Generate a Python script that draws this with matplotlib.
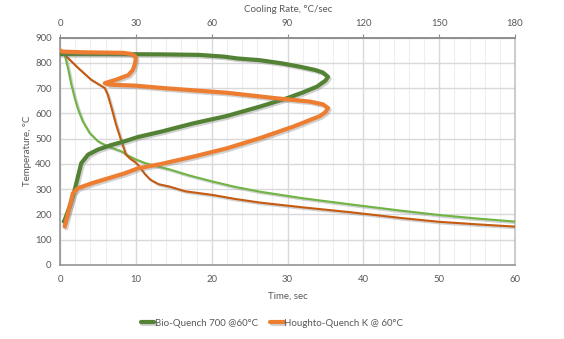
import matplotlib
matplotlib.use("Agg")
import matplotlib.pyplot as plt
import matplotlib.patheffects as pe
from matplotlib.ticker import MultipleLocator

# ---- data ----
# Temperature vs time (bottom axis)
bio_time = [0.4, 0.62, 1.05, 1.5, 1.94, 2.4, 3.0, 3.9, 5.0, 6.3, 8.1, 9.0, 10.0, 11.2, 12.5,
            14.5, 17, 20.2, 23, 26.4, 32.1, 38.3, 45, 50, 55, 60]
bio_temp = [838, 833, 780, 714, 661, 615, 569, 523, 490, 470, 450, 433, 418, 404, 393,
            378, 355, 330, 310, 290, 264, 240, 215, 198, 184, 172]

hq_time = [0.5, 0.83, 2.4, 4.1, 5.9, 6.3, 6.8, 7.4, 8.1, 8.7, 9.3, 9.9, 10.3, 11.2, 11.9,
           13.0, 14.5, 16.5, 20.2, 23, 26.4, 32.1, 38.3, 45, 50, 55, 60]
hq_temp = [835, 826, 780, 734, 701, 674, 622, 555, 490, 437, 420, 408, 396, 360, 338,
           320, 310, 292, 277, 262, 247, 228, 209, 186, 171, 161, 152]

# Cooling rate vs temperature (top axis)
bio_rate = [0, 20, 40, 55, 65, 70, 79, 88, 95, 101, 104, 106, 105, 101.6, 96, 89.7, 79, 66,
            52.8, 40, 30.9, 25.6, 20.3, 15, 11.1, 8.4, 7.1, 5.8, 3.8, 1.85, 1.5]
bio_rate_temp = [835, 835, 834, 832, 825, 818, 811, 798, 785, 772, 762, 745, 730, 706, 683,
                 660, 627, 590, 561, 528, 507, 490, 475, 457, 437, 403, 350, 297, 231, 178, 172]

hq_rate = [0, 1, 10, 25, 28, 29.6, 30, 29.6, 28.8, 27, 22, 17.7, 20, 30, 41.5, 66, 85.8, 98.9,
           104, 106, 105, 102.9, 92.3, 79, 66, 52.7, 40, 30.9, 25.6, 19, 12.4, 7.1, 5.1, 3.8,
           1.85]
hq_rate_temp = [850, 845, 842, 840, 836, 828, 815, 795, 772, 752, 733, 720, 714, 710, 700,
                682, 660, 647, 636, 622, 605, 590, 548, 502, 462, 429, 400, 383, 363, 343,
                323, 304, 284, 231, 152]

series_labels = ["Bio-Quench 700 @60°C", "Houghto-Quench K @ 60°C"]

# ---- style ----
plt.rcParams['font.family'] = ['Lato', 'DejaVu Sans']
txt = '#595959'
c_dkgreen = '#548235'
c_ltgreen = '#70B443'
c_orange = '#ED7D31'
c_brown = '#C55A11'

fig = plt.figure(figsize=(5.64, 3.39), dpi=100)
L, R = 60 / 564, 515 / 564
B, T = 1 - 265 / 339, 1 - 37.7 / 339
ax = fig.add_axes([L, B, R - L, T - B])

shadow = [pe.SimpleLineShadow(offset=(1.2, -1.2), shadow_color='#7f7f7f', alpha=0.35), pe.Normal()]

ax.plot(bio_time, bio_temp, color=c_ltgreen, lw=1.5, path_effects=shadow, zorder=3,
        solid_joinstyle='round')
ax.plot(hq_time, hq_temp, color=c_brown, lw=1.5, path_effects=shadow, zorder=3,
        solid_joinstyle='round')

ax.set_xlim(0, 60)
ax.set_ylim(0, 900)
ax.xaxis.set_major_locator(MultipleLocator(10))
ax.xaxis.set_minor_locator(MultipleLocator(2))
ax.yaxis.set_major_locator(MultipleLocator(100))
ax.grid(True, which='major', color='#D9D9D9', lw=1.0)
ax.grid(True, which='minor', axis='x', color='#EFEFEF', lw=0.8)
ax.set_axisbelow(True)
ax.tick_params(axis='both', which='both', length=0, labelsize=6.8, labelcolor=txt)
ax.tick_params(axis='x', pad=7)
ax.tick_params(axis='y', pad=6)
for s in ax.spines.values():
    s.set_color('#8C8C8C')
    s.set_linewidth(1.1)
ax.spines['right'].set_color('#BFBFBF')

ax2 = ax.twiny()
ax2.set_position([L, B, R - L, T - B])
ax2.plot(bio_rate, bio_rate_temp, color=c_dkgreen, lw=3.0, path_effects=shadow,
         solid_capstyle='round', solid_joinstyle='round', label=series_labels[0], zorder=4)
ax2.plot(hq_rate, hq_rate_temp, color=c_orange, lw=3.0, path_effects=shadow,
         solid_capstyle='round', solid_joinstyle='round', label=series_labels[1], zorder=5)
ax2.set_xlim(0, 180)
ax2.xaxis.set_major_locator(MultipleLocator(30))
ax2.tick_params(axis='x', length=3, color='#8C8C8C', labelsize=6.8, labelcolor=txt, pad=4)
for s in ax2.spines.values():
    s.set_visible(False)
ax2.spines['top'].set_visible(True)
ax2.spines['top'].set_color('#8C8C8C')
ax2.spines['top'].set_linewidth(1.1)

fig.text(288 / 564, 1 - 9.3 / 339, "Cooling Rate, °C/sec", ha='center', va='center',
         fontsize=7, color=txt)
fig.text(288 / 564, 1 - 296 / 339, "Time, sec", ha='center', va='center',
         fontsize=7, color=txt)
fig.text(27 / 564, 1 - 151 / 339, "Temperature, °C", ha='center', va='center',
         rotation=90, fontsize=7, color=txt)

h, l = ax2.get_legend_handles_labels()
fig.legend(h, l, loc='center', bbox_to_anchor=(272 / 564, 1 - 323 / 339), ncol=2,
           frameon=False, fontsize=7, labelcolor=txt, handlelength=1.4,
           handletextpad=0.1, columnspacing=1.2, borderpad=0)

fig.savefig("out.png", dpi=100)
